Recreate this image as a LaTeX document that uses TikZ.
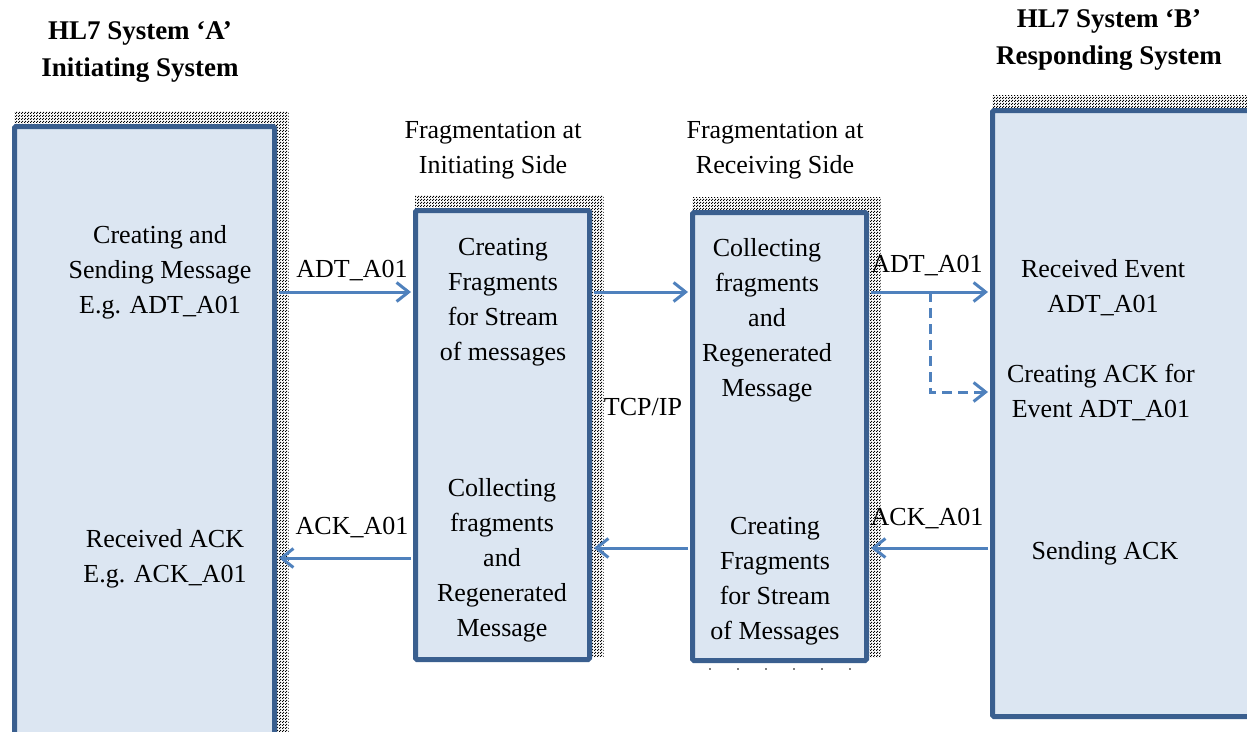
\documentclass[tikz,border=0pt]{standalone}
\usepackage{fontspec}
\setmainfont{Liberation Serif}
\usetikzlibrary{arrows.meta,patterns,calc,backgrounds}
\definecolor{boxfill}{HTML}{DCE6F2}
\definecolor{boxline}{HTML}{3A5F8F}
\definecolor{flow}{HTML}{4F81BD}
% checkerboard stipple for the block shadows
\pgfdeclarepatternformonly{stip}{\pgfpointorigin}{\pgfpoint{3pt}{3pt}}{\pgfpoint{3pt}{3pt}}{%
  \pgfpathrectangle{\pgfpointorigin}{\pgfpoint{1.4pt}{1.4pt}}%
  \pgfpathrectangle{\pgfpoint{1.5pt}{1.5pt}}{\pgfpoint{1.4pt}{1.4pt}}%
  \pgfusepath{fill}}
\tikzset{
  blk/.style={draw=boxline, fill=boxfill, line width=5pt, rounded corners=1.5pt, inner sep=0pt},
  stipple/.style={pattern=stip, pattern color=black},
  txt/.style={font=\fontsize{26pt}{35pt}\selectfont, align=center, inner sep=0pt},
  ttl/.style={font=\fontsize{27pt}{37pt}\selectfont\bfseries, align=center, inner sep=0pt},
  lbl/.style={font=\fontsize{26pt}{30pt}\selectfont, inner sep=0pt},
  tip/.style={-{Straight Barb[length=12pt,width=19pt,line width=3pt]}},
  flowarr/.style={draw=flow, line width=3pt, tip, shorten >=2pt, shorten <=2pt},
  dasharr/.style={draw=flow, line width=3pt, tip, dash pattern=on 10pt off 6pt, shorten >=2pt}
}
\begin{document}
\begin{tikzpicture}[x=1pt, y=-1pt]
\clip (0,0) rectangle (1247,731);
\useasboundingbox (0,0) rectangle (1247,731);

% system and fragmentation blocks
\node[blk, minimum width=260pt, minimum height=634pt] (A)  at (144.5,443.5) {};
\node[blk, minimum width=174pt, minimum height=449pt] (F1) at (502.5,435) {};
\node[blk, minimum width=174pt, minimum height=448pt] (F2) at (779.5,436.5) {};
\node[blk, minimum width=278pt, minimum height=606pt] (B)  at (1131.5,413.5) {};

% stippled shadows behind the blocks
\begin{scope}[on background layer]
  \foreach \b in {A,F1,F2,B}
    \fill[stipple] ($(\b.north west)+(2,-13)$) rectangle ($(\b.south east)+(11.5,-6)$);
\end{scope}
\foreach \x in {710,738,...,852}
  \fill[black] (\x,669) circle (0.9pt);

% headings
\node[ttl] (hA) at (140,52) {HL7 System ‘A’\\Initiating System};
\node[ttl] (hB) at (1109,40) {HL7 System ‘B’\\Responding System};
\node[txt] (hF1) at (493,150) {Fragmentation at\\Initiating Side};
\node[txt] (hF2) at (775,150) {Fragmentation at\\Receiving Side};

% block texts
\node[txt] (a1) at (160,272) {Creating and\\Sending Message\\E.g. ADT\_A01};
\node[txt] (a2) at (165,559) {Received ACK\\E.g. ACK\_A01};
\node[txt] (f11) at (503,302) {Creating\\Fragments\\for Stream\\of messages};
\node[txt] (f12) at (502,560) {Collecting\\fragments\\and\\Regenerated\\Message};
\node[txt] (f21) at (767,320) {Collecting\\fragments\\and\\Regenerated\\Message};
\node[txt] (f22) at (775,581) {Creating\\Fragments\\for Stream\\of Messages};
\node[txt] (b1) at (1103,288) {Received Event\\ADT\_A01};
\node[txt] (b2) at (1101,393) {Creating ACK for\\Event ADT\_A01};
\node[txt] (b3) at (1105,553) {Sending ACK};

% rows of the connectors
\coordinate (r1) at (0,292);
\coordinate (r2) at (0,392);
\coordinate (r3) at (0,548);
\coordinate (r4) at (0,558);
\coordinate (split) at (930,292);

% message flow
\draw[flowarr] (A.east |- r1) -- (F1.west |- r1);
\draw[flowarr] (F1.east |- r1) -- (F2.west |- r1);
\draw[flowarr] (F2.east |- r1) -- (B.west |- r1);
\draw[dasharr] (split) |- (B.west |- r2);
\draw[flowarr] (B.west |- r3) -- (F2.east |- r3);
\draw[flowarr] (F2.west |- r3) -- (F1.east |- r3);
\draw[flowarr] (F1.west |- r4) -- (A.east |- r4);

% connector labels
\node[lbl] (l1) at (352,271) {ADT\_A01};
\node[lbl] (l2) at (927,266) {ADT\_A01};
\node[lbl] (l3) at (927,519) {ACK\_A01};
\node[lbl] (l4) at (352,528) {ACK\_A01};
\node[lbl] (l5) at (643,407) {TCP/IP};
\end{tikzpicture}
\end{document}
